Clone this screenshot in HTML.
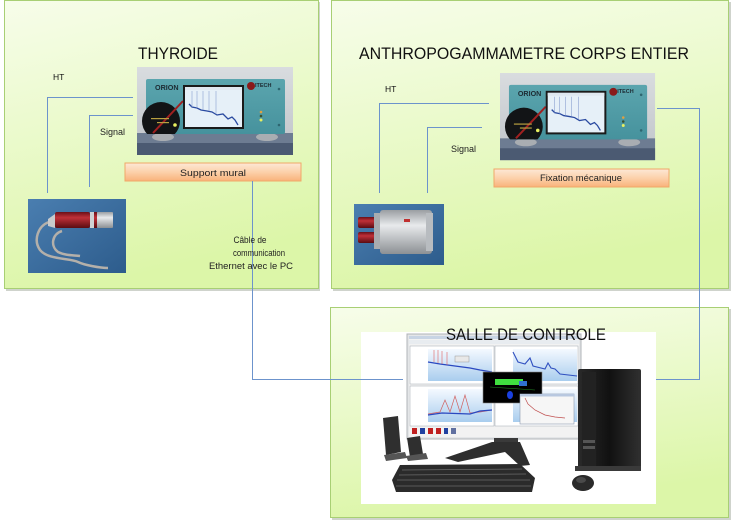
<!DOCTYPE html>
<html><head><meta charset="utf-8"><style>
html,body{margin:0;padding:0;background:#fff;}
svg{display:block;}
text{font-family:"Liberation Sans",sans-serif;}
</style></head><body>
<svg width="734" height="521" viewBox="0 0 734 521" xmlns="http://www.w3.org/2000/svg">
<defs>
<linearGradient id="pg" x1="0" y1="0" x2="0.25" y2="1">
<stop offset="0" stop-color="#f7fdea"/><stop offset="1" stop-color="#dcf6a8"/></linearGradient>
<linearGradient id="og" x1="0" y1="0" x2="0" y2="1">
<stop offset="0" stop-color="#fde8d6"/><stop offset="0.5" stop-color="#fcd1ab"/><stop offset="1" stop-color="#f9b27a"/></linearGradient>
<linearGradient id="bgO" x1="0" y1="0" x2="0" y2="1">
<stop offset="0" stop-color="#d9dcdf"/><stop offset="1" stop-color="#bfc4c9"/></linearGradient>
<linearGradient id="face" x1="0" y1="0" x2="0" y2="1">
<stop offset="0" stop-color="#5ba5ae"/><stop offset="1" stop-color="#46929d"/></linearGradient>
<linearGradient id="blueBg" x1="0" y1="0" x2="1" y2="1">
<stop offset="0" stop-color="#4a7eb0"/><stop offset="1" stop-color="#2d5c8c"/></linearGradient>
<linearGradient id="silver" x1="0" y1="0" x2="0" y2="1">
<stop offset="0" stop-color="#9a9ea2"/><stop offset="0.35" stop-color="#e8eaec"/><stop offset="1" stop-color="#8c9094"/></linearGradient>
<linearGradient id="red" x1="0" y1="0" x2="0" y2="1">
<stop offset="0" stop-color="#6a1018"/><stop offset="0.35" stop-color="#c03038"/><stop offset="1" stop-color="#5a0c12"/></linearGradient>
<linearGradient id="chart" x1="0" y1="0" x2="0" y2="1">
<stop offset="0" stop-color="#f4f9ff"/><stop offset="1" stop-color="#a9cdee"/></linearGradient>
<linearGradient id="tower" x1="0" y1="0" x2="1" y2="0">
<stop offset="0" stop-color="#2a2a2a"/><stop offset="0.5" stop-color="#111"/><stop offset="1" stop-color="#303030"/></linearGradient>

<g id="orion">
<rect x="0" y="0" width="156" height="88" fill="url(#bgO)"/>
<rect x="0" y="66" width="156" height="22" fill="#6d7c92"/>
<rect x="0" y="76" width="156" height="12" fill="#4b5a72"/>
<ellipse cx="26" cy="70" rx="11" ry="4" fill="#a9adb2"/>
<ellipse cx="130" cy="70" rx="11" ry="4" fill="#a9adb2"/>
<rect x="9" y="12" width="139" height="55" rx="2" fill="url(#face)"/>
<clipPath id="fc"><rect x="3" y="12" width="145" height="55"/></clipPath>
<circle cx="24" cy="54" r="19" fill="#121416" clip-path="url(#fc)"/>
<line x1="16" y1="66" x2="46" y2="34" stroke="#a02020" stroke-width="2"/>
<circle cx="38" cy="58" r="1.8" fill="#e8f060"/>
<rect x="14" y="51" width="18" height="1.2" fill="#b8a040"/>
<rect x="20" y="55" width="12" height="1.2" fill="#b8a040"/>
<text x="18" y="23" font-size="7.2" font-weight="bold" fill="#1d2b33">ORION</text>
<rect x="46" y="18" width="61" height="44" fill="#1a1a1a"/>
<rect x="48" y="20" width="57" height="40" fill="#e6f0f8"/>
<rect x="48" y="20" width="57" height="3" fill="#dfe8f0"/>
<polyline points="52,37 55,40 60,41 64,43 70,44 75,45 80,48 86,47 91,52 95,50 98,53 101,58" fill="none" stroke="#2a4aa0" stroke-width="1.3"/>
<g stroke="#8aa0d0" stroke-width="0.6"><line x1="55" y1="24" x2="55" y2="40"/><line x1="60" y1="24" x2="60" y2="41"/><line x1="66" y1="24" x2="66" y2="43"/><line x1="72" y1="24" x2="72" y2="44"/><line x1="79" y1="24" x2="79" y2="47"/></g>
<circle cx="114" cy="19" r="4" fill="#8a1a1a"/>
<text x="118" y="20" font-size="5.5" font-weight="bold" fill="#1d2b33">ITECH</text>
<circle cx="124" cy="45" r="1.3" fill="#e0a040"/>
<circle cx="124" cy="49" r="1.3" fill="#3a5030"/>
<circle cx="124" cy="53" r="1.5" fill="#e8f060"/>
<circle cx="142" cy="22" r="1.3" fill="#2e6670"/>
<circle cx="142" cy="58" r="1.3" fill="#2e6670"/>
</g>
</defs>

<!-- panels -->
<rect x="6" y="2" width="314" height="289" fill="#cfd3cc"/>
<rect x="4.5" y="0.5" width="314" height="288" fill="url(#pg)" stroke="#a8cf74"/>
<rect x="333" y="2" width="398" height="289" fill="#cfd3cc"/>
<rect x="331.5" y="0.5" width="397" height="288" fill="url(#pg)" stroke="#a8cf74"/>
<rect x="332" y="309" width="399" height="211" fill="#cfd3cc"/>
<rect x="330.5" y="307.5" width="398" height="210" fill="url(#pg)" stroke="#a8cf74"/>

<!-- titles -->
<text x="138" y="59" font-size="17" textLength="80" lengthAdjust="spacingAndGlyphs" fill="#111">THYROIDE</text>
<text x="359" y="59" font-size="17" textLength="330" lengthAdjust="spacingAndGlyphs" fill="#111">ANTHROPOGAMMAMETRE CORPS ENTIER</text>

<!-- panel 1 -->
<use href="#orion" transform="translate(137,67)"/>
<rect x="125" y="163" width="176" height="18" fill="url(#og)" stroke="#f0a868" stroke-width="1"/>
<text x="213" y="176" font-size="9.5" text-anchor="middle" textLength="66" lengthAdjust="spacingAndGlyphs" fill="#222">Support mural</text>
<text x="53" y="80" font-size="8.5" fill="#111">HT</text>
<text x="100" y="135" font-size="9" fill="#222">Signal</text>

<!-- probe 1 -->
<rect x="28" y="199" width="98" height="74" fill="url(#blueBg)"/>
<path d="M49,222 C38,226 33,240 40,250 C48,260 70,258 78,262 C84,265 100,268 108,268" fill="none" stroke="#b4b0aa" stroke-width="2.5"/>
<path d="M62,231 C52,234 50,246 58,252 C66,256 74,255 80,256" fill="none" stroke="#b4b0aa" stroke-width="2.5"/>
<path d="M48,219 L55,214 L55,228 L48,226 Z" fill="#c8cacc"/>
<rect x="55" y="212" width="35" height="16" rx="2" fill="url(#red)"/>
<rect x="90" y="212" width="4" height="16" fill="#d0d2d4"/>
<rect x="94" y="212" width="3" height="16" fill="url(#red)"/>
<rect x="97" y="212" width="16" height="16" rx="1" fill="url(#silver)"/>

<!-- panel 2 -->
<use href="#orion" transform="translate(500,73) scale(0.994,0.99)"/>
<rect x="494" y="169" width="175" height="18" fill="url(#og)" stroke="#f0a868" stroke-width="1"/>
<text x="581" y="181" font-size="9.5" text-anchor="middle" textLength="82" lengthAdjust="spacingAndGlyphs" fill="#222">Fixation mécanique</text>
<text x="385" y="92" font-size="8.5" fill="#111">HT</text>
<text x="451" y="152" font-size="9" fill="#222">Signal</text>

<!-- detector 2 -->
<rect x="354" y="204" width="90" height="61" fill="url(#blueBg)"/>
<rect x="358" y="217" width="18" height="11" rx="2" fill="url(#red)"/>
<rect x="358" y="232" width="18" height="11" rx="2" fill="url(#red)"/>
<rect x="374" y="213" width="6" height="36" fill="#a8acb0"/>
<rect x="380" y="210" width="52" height="44" rx="3" fill="url(#silver)"/>
<rect x="426" y="213" width="7" height="38" fill="#b8bcc0"/>
<rect x="404" y="219" width="6" height="3" fill="#c03030"/>

<!-- control room image -->
<rect x="361" y="332" width="295" height="172" fill="#ffffff"/>
<rect x="407" y="334" width="174" height="105" fill="#e4e6e8" stroke="#b0b4b8" stroke-width="1"/>
<rect x="409" y="336" width="170" height="101" fill="#f2f2f2"/>
<rect x="409" y="336" width="170" height="3" fill="#c8d4e4"/>
<rect x="409" y="340" width="170" height="4" fill="#e8ecf0"/>
<g stroke="#a0a8b0" stroke-width="0.5">
<rect x="410" y="346" width="84" height="38" fill="#fff"/>
<rect x="495" y="346" width="83" height="38" fill="#fff"/>
<rect x="410" y="386" width="84" height="40" fill="#fff"/>
<rect x="495" y="386" width="83" height="40" fill="#fff"/>
</g>
<rect x="428" y="349" width="64" height="32" fill="url(#chart)"/>
<rect x="513" y="349" width="64" height="32" fill="url(#chart)"/>
<rect x="428" y="389" width="64" height="33" fill="url(#chart)"/>
<rect x="513" y="389" width="64" height="33" fill="url(#chart)"/>
<polyline points="428,362 440,364 455,366 470,368 480,370 492,372" fill="none" stroke="#2a48c0" stroke-width="1.2"/>
<g stroke="#e06060" stroke-width="0.6" fill="none"><polyline points="434,350 434,362"/><polyline points="438,350 438,363"/><polyline points="442,351 442,364"/><polyline points="447,352 447,365"/></g>
<rect x="455" y="356" width="14" height="6" fill="#e8e8e8" stroke="#888" stroke-width="0.4"/>
<polyline points="513,352 518,362 525,364 530,358 533,366 545,369 548,363 551,368 555,369 560,374 577,376" fill="none" stroke="#3050c0" stroke-width="1.1"/>
<polyline points="428,414 440,412 445,400 450,412 455,396 460,412 465,395 470,413 480,412 492,410" fill="none" stroke="#d06060" stroke-width="0.7"/>
<polyline points="428,415 442,413 470,414 480,411 492,410" fill="none" stroke="#2a48c0" stroke-width="1.2"/>
<rect x="483" y="372" width="59" height="31" fill="#000" stroke="#888" stroke-width="0.6"/>
<rect x="495" y="379" width="28" height="6" fill="#40e040"/>
<rect x="519" y="381" width="8" height="5" fill="#3070d0"/>
<ellipse cx="510" cy="395" rx="3" ry="4" fill="#1a40e0"/>
<line x1="490" y1="387" x2="535" y2="390" stroke="#208020" stroke-width="0.6"/>
<rect x="520" y="394" width="54" height="30" fill="#f6f6f6" stroke="#8a98b0" stroke-width="0.6"/>
<rect x="520" y="394" width="54" height="2.5" fill="#b8c8e0"/>
<polyline points="525,398 528,404 535,410 545,415 555,417 565,418" fill="none" stroke="#c05050" stroke-width="0.7"/>
<g><rect x="412" y="428" width="5" height="6" fill="#c02020"/><rect x="420" y="428" width="5" height="6" fill="#2040a0"/><rect x="428" y="428" width="5" height="6" fill="#c02020"/><rect x="436" y="428" width="5" height="6" fill="#c02020"/><rect x="444" y="428" width="4" height="6" fill="#2040a0"/><rect x="451" y="428" width="5" height="6" fill="#6070a0"/></g>
<rect x="494" y="438" width="24" height="10" fill="#3a3a3a"/>
<path d="M445,458 L492,442 L520,442 L530,465 L520,466 L505,452 L458,462 Z" fill="#2e2e2e"/>
<path d="M383,418 L398,416 L401,452 L386,455 Z" fill="#2f2f2f"/>
<path d="M384,455 L405,452 L407,458 L386,461 Z" fill="#555"/>
<path d="M407,438 L420,436 L423,454 L410,457 Z" fill="#2f2f2f"/>
<path d="M406,456 L426,453 L428,459 L408,461 Z" fill="#555"/>
<path d="M400,465 L520,464 L535,478 L532,492 L396,492 L392,480 Z" fill="#2b2b2b"/>
<g stroke="#6a6a6a" stroke-width="0.8">
<line x1="402" y1="470" x2="522" y2="469"/><line x1="399" y1="475" x2="526" y2="474"/><line x1="397" y1="480" x2="530" y2="480"/><line x1="396" y1="486" x2="531" y2="486"/>
</g>
<rect x="578" y="369" width="63" height="101" rx="2" fill="url(#tower)"/>
<rect x="582" y="372" width="14" height="95" fill="#222"/>
<rect x="583" y="440" width="12" height="3" fill="#555"/>
<rect x="583" y="446" width="12" height="3" fill="#555"/>
<rect x="575" y="466" width="66" height="5" fill="#3a3a3a"/>
<ellipse cx="583" cy="483" rx="11" ry="8" fill="#2a2a2a"/>
<ellipse cx="581" cy="480" rx="5" ry="3" fill="#4a4a4a"/>

<text x="446" y="340" font-size="17" textLength="160" lengthAdjust="spacingAndGlyphs" fill="#111">SALLE DE CONTROLE</text>

<!-- connectors -->
<g fill="none" stroke="#6c93cc" stroke-width="1">
<path d="M47.5,193 V97.5 H133"/>
<path d="M89.5,187 V115.5 H133"/>
<path d="M252.5,181 V379.5 H403"/>
<path d="M379.5,193 V103.5 H489"/>
<path d="M427.5,193 V127.5 H482"/>
<path d="M657,108.5 H699.5 V379.5 H656"/>
</g>

<!-- cable label -->
<g font-size="9" text-anchor="middle" fill="#222">
<text x="250" y="243" textLength="33" lengthAdjust="spacingAndGlyphs">Câble de</text>
<text x="259" y="256" textLength="52" lengthAdjust="spacingAndGlyphs">communication</text>
<text x="251" y="269" textLength="84" lengthAdjust="spacingAndGlyphs">Ethernet avec le PC</text>
</g>
</svg>
</body></html>
